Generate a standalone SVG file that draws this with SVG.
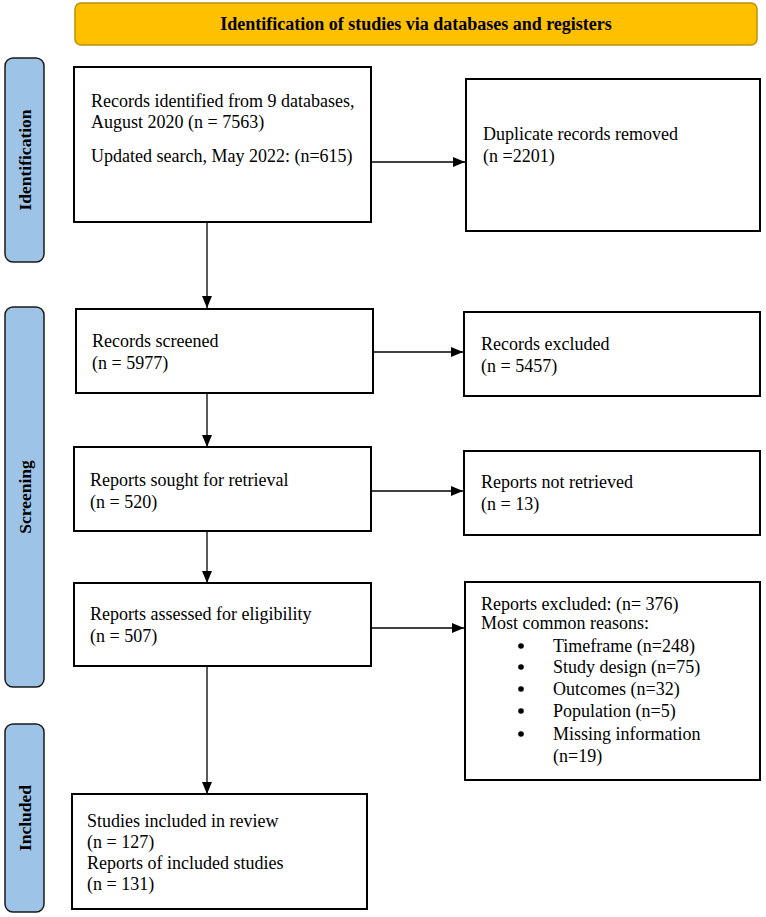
<svg xmlns="http://www.w3.org/2000/svg" width="766" height="917" viewBox="0 0 766 917">
<defs>
<style>
.box{fill:#fff;stroke:#000;stroke-width:2}
.side{fill:#9DC3E6;stroke:#1a1a1a;stroke-width:1.5}
.t{font-family:"Liberation Serif","Times New Roman",serif;font-size:18px;fill:#000}
.b{font-family:"Liberation Serif","Times New Roman",serif;font-size:18px;font-weight:bold;fill:#000}
.s{font-family:"Liberation Serif","Times New Roman",serif;font-size:17.5px;font-weight:bold;fill:#000}
.c{stroke:#000;stroke-width:1.3;fill:none;marker-end:url(#ah)}
</style>
<marker id="ah" viewBox="0 0 12 10" refX="12" refY="5" markerWidth="12" markerHeight="10" markerUnits="userSpaceOnUse" orient="auto">
<path d="M0,0 L12,5 L0,10 Z" fill="#000"/>
</marker>
</defs>
<rect width="766" height="917" fill="#fff"/>

<g id="header">
<rect x="75" y="3" width="682" height="42" rx="6" fill="#FFC000" stroke="#BF9000" stroke-width="1.5"/>
<text class="b" x="416" y="30" text-anchor="middle">Identification of studies via databases and registers</text>
</g>

<g id="side-identification">
<rect class="side" x="5" y="58" width="39" height="204" rx="8"/>
<text class="s" transform="translate(30.5,160) rotate(-90)" text-anchor="middle">Identification</text>
</g>
<g id="side-screening">
<rect class="side" x="5" y="307" width="39" height="380" rx="8"/>
<text class="s" transform="translate(30.5,497) rotate(-90)" text-anchor="middle">Screening</text>
</g>
<g id="side-included">
<rect class="side" x="5" y="724" width="39" height="188" rx="8"/>
<text class="s" transform="translate(30.5,818) rotate(-90)" text-anchor="middle">Included</text>
</g>

<g id="connectors">
<line class="c" x1="371" y1="162" x2="465" y2="162"/>
<line class="c" x1="207" y1="222" x2="207" y2="308"/>
<line class="c" x1="373" y1="352" x2="463" y2="352"/>
<line class="c" x1="207" y1="393" x2="207" y2="447"/>
<line class="c" x1="371" y1="491" x2="463" y2="491"/>
<line class="c" x1="207" y1="531" x2="207" y2="583"/>
<line class="c" x1="371" y1="628" x2="464" y2="628"/>
<line class="c" x1="207" y1="666" x2="207" y2="794"/>
</g>

<g id="records-identified">
<rect class="box" x="74" y="67" width="297" height="155"/>
<text class="t" x="91" y="107">Records identified from 9 databases,</text>
<text class="t" x="91" y="128">August 2020 (n = 7563)</text>
<text class="t" x="91" y="162">Updated search, May 2022: (n=615)</text>
</g>

<g id="duplicates">
<rect class="box" x="466" y="79" width="294" height="152"/>
<text class="t" x="483" y="140">Duplicate records removed</text>
<text class="t" x="483" y="162">(n =2201)</text>
</g>

<g id="records-screened">
<rect class="box" x="76" y="309" width="297" height="84"/>
<text class="t" x="92" y="347">Records screened</text>
<text class="t" x="92" y="369">(n = 5977)</text>
</g>

<g id="records-excluded">
<rect class="box" x="464" y="312" width="296" height="84"/>
<text class="t" x="481" y="350">Records excluded</text>
<text class="t" x="481" y="372">(n = 5457)</text>
</g>

<g id="reports-sought">
<rect class="box" x="74" y="447" width="297" height="84"/>
<text class="t" x="90" y="486">Reports sought for retrieval</text>
<text class="t" x="90" y="508">(n = 520)</text>
</g>

<g id="reports-not-retrieved">
<rect class="box" x="464" y="451" width="296" height="84"/>
<text class="t" x="481" y="488">Reports not retrieved</text>
<text class="t" x="481" y="510">(n = 13)</text>
</g>

<g id="reports-assessed">
<rect class="box" x="74" y="583" width="297" height="83"/>
<text class="t" x="90" y="620">Reports assessed for eligibility</text>
<text class="t" x="90" y="642">(n = 507)</text>
</g>

<g id="reports-excluded">
<rect class="box" x="465" y="582" width="295" height="198"/>
<text class="t" x="481" y="610">Reports excluded: (n= 376)</text>
<text class="t" x="481" y="629">Most common reasons:</text>
<circle cx="521" cy="646" r="2.8"/>
<text class="t" x="553" y="652">Timeframe (n=248)</text>
<circle cx="521" cy="667" r="2.8"/>
<text class="t" x="553" y="673">Study design (n=75)</text>
<circle cx="521" cy="689" r="2.8"/>
<text class="t" x="553" y="695">Outcomes (n=32)</text>
<circle cx="521" cy="711" r="2.8"/>
<text class="t" x="553" y="717">Population (n=5)</text>
<circle cx="521" cy="734" r="2.8"/>
<text class="t" x="553" y="740">Missing information</text>
<text class="t" x="553" y="762">(n=19)</text>
</g>

<g id="studies-included">
<rect class="box" x="72" y="794" width="295" height="115"/>
<text class="t" x="87" y="827">Studies included in review</text>
<text class="t" x="87" y="848">(n = 127)</text>
<text class="t" x="87" y="869">Reports of included studies</text>
<text class="t" x="87" y="890">(n = 131)</text>
</g>
</svg>
